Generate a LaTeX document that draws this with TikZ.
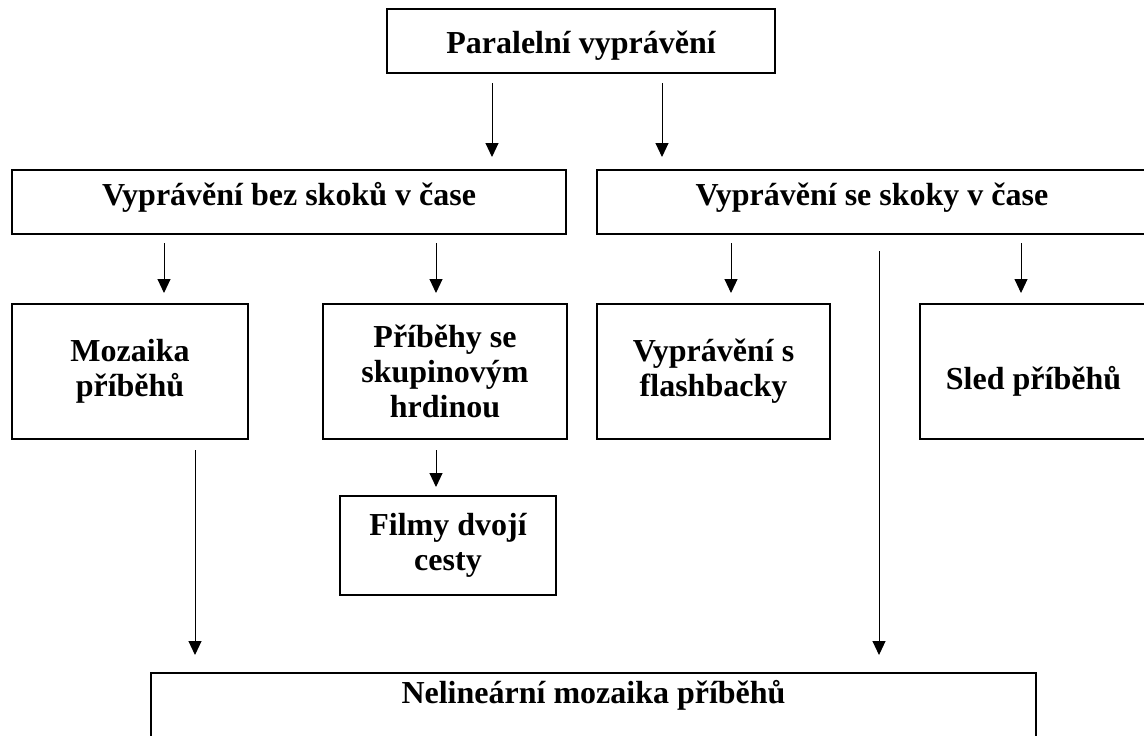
\documentclass[tikz,border=0pt]{standalone}
\usepackage{fontspec}
\setmainfont{Liberation Serif}
\usetikzlibrary{arrows.meta}

\begin{document}
\begin{tikzpicture}[->,>={Triangle[width=6.5pt,length=7pt]},x=0.5pt,y=-0.5pt,line width=0.5pt]
                \tikzset{box/.style={draw, line width=1.3pt, outer sep=0pt, align=center, font=\fontsize{16}{17.5}\selectfont\bfseries}}
                \useasboundingbox (0,0) rectangle (1144,735);
                \node[box, minimum width=194pt, minimum height=32pt, text height=12.4pt, text depth=0pt] (P) at (581,41) {Paralelní vyprávění};
                \node[box, minimum width=277pt, minimum height=32pt, text height=12pt, text depth=8.4pt] (B) at (289,202) {Vyprávění bez skoků v čase};
                \node[box, minimum width=275pt, minimum height=32pt, text height=12pt, text depth=8.4pt] (S) at (872,202) {Vyprávění se skoky v čase};
                \node[box, minimum width=118pt, minimum height=67.5pt] (M) at (130,371.5) {Mozaika\\příběhů};
                \node[box, minimum width=122pt, minimum height=67.5pt] (H) at (445,371.5) {Příběhy se\\skupinovým\\hrdinou};
                \node[box, minimum width=116.5pt, minimum height=67.5pt] (F) at (713.5,371.5) {Vyprávění s\\flashbacky};
                \node[box, minimum width=113.5pt, minimum height=67.5pt, text height=18pt, text depth=0.4pt] (L) at (1033.5,371.5) {Sled příběhů};
                \node[box, minimum width=108pt, minimum height=49.5pt] (D) at (448,545.5) {Filmy dvojí\\cesty};
                \node[box, minimum width=442.5pt, minimum height=32pt, text height=11pt, text depth=12.4pt] (N) at (593.5,705) {Nelineární mozaika příběhů};
                \coordinate (x1) at (492,0);
                \coordinate (x2) at (662,0);
                \coordinate (x3) at (164,0);
                \coordinate (x4) at (436,0);
                \coordinate (x5) at (731,0);
                \coordinate (x6) at (1021,0);
                \coordinate (x7) at (195,0);
                \coordinate (x8) at (879,0);
                \path (P.south -| x1) edge[shorten <=5pt, shorten >=6.5pt] (B.north -| x1);
                \path (P.south -| x2) edge[shorten <=5pt, shorten >=6.5pt] (S.north -| x2);
                \path (B.south -| x3) edge[shorten <=4.5pt, shorten >=5.5pt] (M.north -| x3);
                \path (B.south -| x4) edge[shorten <=4.5pt, shorten >=5.5pt] (H.north -| x4);
                \path (S.south -| x5) edge[shorten <=4.5pt, shorten >=5.5pt] (F.north -| x5);
                \path (S.south -| x6) edge[shorten <=4.5pt, shorten >=5.5pt] (L.north -| x6);
                \path (H.south -| x4) edge[shorten <=5.5pt, shorten >=4.5pt] (D.north -| x4);
                \path (M.south -| x7) edge[shorten <=5.5pt, shorten >=9pt] (N.north -| x7);
                \path (S.south -| x8) edge[shorten <=8.5pt, shorten >=9pt] (N.north -| x8);
\end{tikzpicture}
\end{document}
